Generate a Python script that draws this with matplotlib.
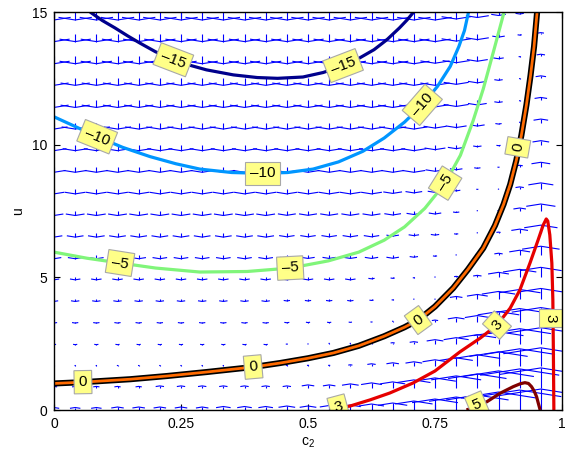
import numpy as np
import matplotlib
matplotlib.use('Agg')
import matplotlib.pyplot as plt
from matplotlib.collections import LineCollection

plt.rcParams['font.family'] = ['Liberation Sans', 'DejaVu Sans']
plt.rcParams['mathtext.fontset'] = 'custom'
plt.rcParams['mathtext.rm'] = 'Liberation Sans'
plt.rcParams['mathtext.it'] = 'Liberation Sans'

# quiver grid
c2_grid = np.linspace(0, 1, 25)
u_grid = np.linspace(0, 15, 19)

# vertical component of the field, one row per u level (u = 0 ... 15)
du_rows = [
    [2.5, 2.5, 2.5, 3, 3, 3, 3, 3, 3.5, 3.5, 3.5, 4, 4, 4.5, 5, 6, 7, 9, 11, 13, 15, 18, 20, 21, 0],
    [1.5, 1.5, 1.5, 1.5, 1.5, 2, 2, 2, 2, 2, 2, 2, 3, 3, 4, 5, 6, 8, 10, 12, 14, 17, 19, 20, 0],
    [0.3] * 11 + [0.5, 0.5, 0.5, 1, 2, 3, 4, 6, 8, 11, 14, 17, 18, 0],
    [-1] * 11 + [-0.5, -0.3, 0.3, 0.3, 0.5, 1, 2, 4, 6, 9, 12, 15, 16, 0],
    [-1.5] * 11 + [-1.2, -1, -1, -0.8, -0.5, 0.3, 0.3, 1.5, 4, 6, 10, 13, 14, 0],
    [-2] * 11 + [-1.5, -1.5, -1.5, -1.5, -1, -0.5, 0.3, 0.3, 3, 5, 8, 10, 11, 0],
    [-2.5] * 11 + [-2.5, -2.5, -2.5, -2.5, -1.5, -1, -0.5, 0.3, 1, 2, 5, 8, 10, 0],
    [-3.5] * 11 + [-3.2, -3.2, -3.2, -3.2, -3.2, -3, -2, -1, 0.3, 1, 2, 5, 9, 0],
    [-4] * 11 + [-3.7, -3.7, -3.7, -3.7, -3.7, -3, -2.5, -2, -1, 0.3, 1, 4, 8, 0],
    [-4.5] * 11 + [-4.3, -4.3, -4.3, -4.3, -4.3, -4, -3.5, -3, -1.5, 0.3, 0.5, 3, 7, 0],
    [-5] * 11 + [-5, -5, -5, -5, -5, -4.5, -4, -3.5, -2, -0.5, -0.3, 2, 6, 0],
    [-5.5] * 18 + [-4.5, -3, -1.5, -0.5, 1.5, 4.5, 0],
    [-6] * 18 + [-5, -4, -2, -1, 1, 4, 0],
    [-6.5] * 18 + [-5.5, -5, -3.5, -1.5, 0.3, 3.5, 0],
    [-7] * 18 + [-6.5, -6, -4.5, -2, -0.3, 3, 0],
    [-7] * 18 + [-7, -6, -4.5, -2, -0.3, 2.5, 0],
    [-7.5] * 18 + [-7, -6.5, -5, -2.5, -0.5, 2, 0],
    [-7.5] * 18 + [-7.5, -7, -5.5, -3, -1, 1.5, 0],
    [-8] * 18 + [-8, -7, -5.5, -3.5, -2, 1, 0],
]

# contour lines (c2, u)
lev_m15_c2 = [0.071, 0.095, 0.12, 0.145, 0.169, 0.2, 0.235, 0.27, 0.30, 0.353, 0.40, 0.44, 0.49,
              0.53, 0.569, 0.60, 0.63, 0.655, 0.68, 0.695, 0.708]
lev_m15_u = [15, 14.68, 14.4, 14.1, 13.83, 13.5, 13.2, 12.98, 12.82, 12.63, 12.53, 12.5, 12.55,
             12.72, 12.98, 13.25, 13.58, 13.95, 14.4, 14.7, 15]
lev_m10_c2 = [0, 0.04, 0.085, 0.135, 0.189, 0.24, 0.287, 0.35, 0.41, 0.46, 0.51, 0.56, 0.608,
              0.65, 0.69, 0.725, 0.755, 0.78, 0.797, 0.808, 0.816]
lev_m10_u = [11.05, 10.7, 10.3, 9.9, 9.55, 9.28, 9.08, 8.95, 8.92, 8.95, 9.08, 9.35, 9.75,
             10.25, 10.85, 11.5, 12.2, 12.95, 13.7, 14.3, 15]
lev_m5_c2 = [0, 0.065, 0.13, 0.2, 0.287, 0.38, 0.465, 0.54, 0.60, 0.65, 0.69, 0.73, 0.77,
             0.80, 0.825, 0.845, 0.865, 0.886]
lev_m5_u = [5.95, 5.72, 5.54, 5.35, 5.2, 5.22, 5.35, 5.62, 5.95, 6.4, 6.9, 7.6, 8.55,
            9.6, 10.9, 12.1, 13.5, 15]
lev_0_c2 = [0, 0.057, 0.15, 0.222, 0.3, 0.392, 0.445, 0.5, 0.55, 0.6, 0.65, 0.69, 0.717, 0.75,
            0.786, 0.815, 0.845, 0.868, 0.885, 0.898, 0.91, 0.92, 0.93, 0.938, 0.945, 0.951]
lev_0_u = [1.0, 1.05, 1.16, 1.28, 1.43, 1.62, 1.77, 1.95, 2.15, 2.42, 2.78, 3.12, 3.39, 3.9,
           4.6, 5.3, 6.1, 6.95, 7.75, 8.5, 9.4, 10.35, 11.5, 12.6, 13.7, 15]
lev_3_c2 = [0.543, 0.583, 0.622, 0.661, 0.707, 0.75, 0.799, 0.839, 0.872, 0.898, 0.917, 0.937,
            0.953, 0.963, 0.969, 0.972, 0.976, 0.98, 0.982, 0.983, 0.984]
lev_3_u = [0, 0.15, 0.38, 0.64, 1.02, 1.47, 2.19, 2.71, 3.2, 3.84, 4.52, 5.54,
           6.41, 6.97, 7.2, 7.12, 6.6, 5.54, 4.15, 2.26, 0]
lev_5_c2 = [0.812, 0.852, 0.878, 0.904, 0.918, 0.927, 0.934, 0.94, 0.945, 0.95, 0.953, 0.957]
lev_5_u = [0, 0.31, 0.63, 0.88, 0.99, 1.03, 1.0, 0.88, 0.72, 0.5, 0.28, 0]

# contour labels: text, c2, u, angle
label_text = ['–15', '–15', '–10', '–10', '–10', '–5', '–5', '–5', '0', '0', '0', '0', '3', '3', '3', '5']
label_c2 = [0.235, 0.569, 0.085, 0.41, 0.725, 0.13, 0.465, 0.77, 0.057, 0.392, 0.717, 0.913, 0.56, 0.872, 0.977, 0.833]
label_u = [13.2, 12.98, 10.3, 8.92, 11.5, 5.54, 5.35, 8.55, 1.05, 1.62, 3.39, 9.9, 0.1, 3.2, 3.47, 0.19]
label_rot = [-21, 21, -22, 0, 49, -9, 3, 58, 1, 5, 36, 80, 15, 48, -90, 23]


def quiver_segments(c2, u, dv):
    # matlab style arrows: shaft plus a flat head, autoscaled to the grid
    C, U = np.meshgrid(c2, u)
    V = np.array(dv, float)
    delx = (c2.max() - c2.min()) / len(c2)
    dely = (u.max() - u.min()) / len(u)
    V = V * np.hypot(delx, dely) / np.abs(V).max()
    a = b = 0.33
    segs = []
    for x, y, v in zip(C.ravel(), U.ravel(), V.ravel()):
        if v == 0:
            continue
        segs.append([(x, y), (x, y + v)])
        segs.append([(x - a * b * v, y + v - a * v), (x, y + v), (x + a * b * v, y + v - a * v)])
    return segs


def main():
    fig = plt.figure(figsize=(5.76, 4.59), dpi=100)
    ax = fig.add_axes([54 / 576, 49 / 459, 508 / 576, 398 / 459])

    lc = LineCollection(quiver_segments(c2_grid, u_grid, du_rows), colors='#0000ff', linewidths=0.8)
    ax.add_collection(lc)

    lw = 2.3
    ax.plot(lev_m15_c2, lev_m15_u, color='#00008c', lw=lw, zorder=3, solid_capstyle='butt')
    ax.plot(lev_m10_c2, lev_m10_u, color='#0096ff', lw=lw, zorder=3, solid_capstyle='butt')
    ax.plot(lev_m5_c2, lev_m5_u, color='#80f57a', lw=lw, zorder=3, solid_capstyle='butt')
    ax.plot(lev_0_c2, lev_0_u, color='black', lw=4.4, zorder=3, solid_capstyle='butt')
    ax.plot(lev_0_c2, lev_0_u, color='#ff6a00', lw=2.0, zorder=3, solid_capstyle='butt')
    ax.plot(lev_3_c2, lev_3_u, color='#e60000', lw=lw, zorder=3, solid_capstyle='butt')
    ax.plot(lev_5_c2, lev_5_u, color='#800000', lw=lw, zorder=3, solid_capstyle='butt')

    for t, x, y, r in zip(label_text, label_c2, label_u, label_rot):
        ax.text(x, y, t, rotation=r, ha='center', va='center', fontsize=11,
                rotation_mode='anchor', zorder=5, clip_on=True,
                bbox=dict(boxstyle='square,pad=0.3', fc='#ffff88', ec='#a8a8a8', lw=0.8))

    ax.set_xlim(0, 1)
    ax.set_ylim(0, 15)
    ax.set_xticks([0, 0.25, 0.5, 0.75, 1])
    ax.set_xticklabels(['0', '0.25', '0.5', '0.75', '1'])
    ax.set_yticks([0, 5, 10, 15])
    ax.set_yticklabels(['0', '5', '10', '15'])
    ax.tick_params(direction='in', top=True, right=True, length=4, labelsize=10, pad=5)
    for s in ax.spines.values():
        s.set_linewidth(1.0)
        s.set_zorder(6)
    ax.set_xlabel(r'c$_\mathregular{2}$', fontsize=10, labelpad=3)
    ax.set_ylabel('u', fontsize=10, labelpad=5)

    fig.savefig('out.png', dpi=100)


if __name__ == '__main__':
    main()
